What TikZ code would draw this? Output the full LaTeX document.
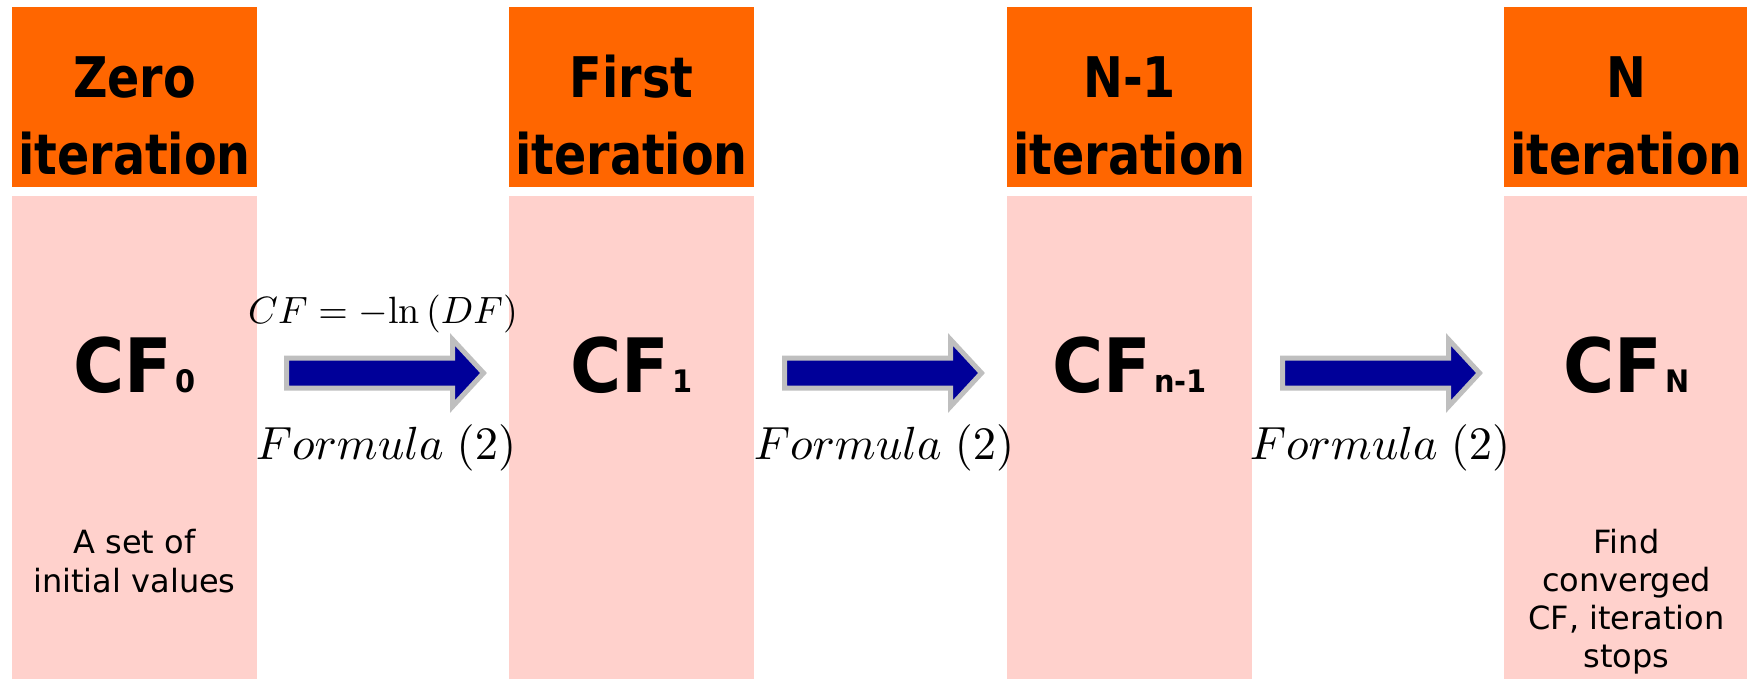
\documentclass[tikz,border=0pt]{standalone}
\usepackage{fontspec}
\usetikzlibrary{calc}
\newfontfamily\titlefont{DejaVu Sans}[FakeStretch=0.85]
\newfontfamily\cffont{DejaVu Sans}[FakeStretch=0.93]
\newfontfamily\notefont{DejaVu Sans}
\definecolor{hdorange}{HTML}{FF6600}
\definecolor{bdpink}{HTML}{FFD1CC}
\definecolor{arrblue}{HTML}{000099}
\definecolor{arrgray}{HTML}{BFBFBF}
\begin{document}
\begin{tikzpicture}[x=1pt,y=-1pt,
  headbox/.style={rectangle,fill=hdorange,draw=none,inner sep=0,anchor=north west,minimum width=245pt,minimum height=180pt},
  bodybox/.style={rectangle,fill=bdpink,draw=none,inner sep=0,anchor=north west,minimum width=245pt,minimum height=483pt},
  ttl/.style={font=\titlefont\bfseries\fontsize{56}{60}\selectfont,anchor=base,inner sep=0},
  cfl/.style={font=\cffont\bfseries\fontsize{75}{80}\selectfont,anchor=base,inner sep=0},
  note/.style={font=\notefont\fontsize{32}{38}\selectfont,anchor=base,inner sep=0},
  frm/.style={anchor=base,inner sep=0},
  blockarrow/.style={fill=arrblue,draw=arrgray,line width=5pt,line join=miter}
]
\useasboundingbox (0,0) rectangle (1747,679);
\fill[white] (0,0) rectangle (1747,679);

% columns
\node[headbox] (h1) at (12,7) {};
\node[headbox] (h2) at (509,7) {};
\node[headbox] (h3) at (1007,7) {};
\node[headbox] (h4) at (1504,7) {};
\node[bodybox] (b1) at (12,196) {};
\node[bodybox] (b2) at (509,196) {};
\node[bodybox] (b3) at (1007,196) {};
\node[bodybox] (b4) at (1504,196) {};

% titles
\node[ttl] (t1a) at (134.5,98) {Zero};
\node[ttl] (t1b) at (134.5,175) {iteration};
\node[ttl] (t2a) at (631.5,98) {First};
\node[ttl] (t2b) at (631.5,175) {iteration};
\node[ttl] (t3a) at (1129.5,98) {N-1};
\node[ttl] (t3b) at (1129.5,175) {iteration};
\node[ttl] (t4a) at (1626.5,98) {N};
\node[ttl] (t4b) at (1626.5,175) {iteration};

% CF values
\node[cfl] (cf0) at (134.5,392) {CF{\fontsize{31}{31}\selectfont\kern3pt 0}};
\node[cfl] (cf1) at (631.5,392) {CF{\fontsize{31}{31}\selectfont\kern3pt 1}};
\node[cfl] (cfn1) at (1129.5,392) {CF{\fontsize{31}{31}\selectfont\kern3pt n-1}};
\node[cfl] (cfN) at (1626.5,392) {CF{\fontsize{31}{31}\selectfont\kern3pt N}};

% notes
\node[note] (n1a) at (134.5,553) {A set of};
\node[note] (n1b) at (134.5,592) {initial values};
\node[note] (n4a) at (1626.5,553) {Find};
\node[note] (n4b) at (1626.5,591) {converged};
\node[note] (n4c) at (1626.5,629) {CF, iteration};
\node[note] (n4d) at (1626.5,667) {stops};

% formulas
\node[frm] (f0) at (383,323) {\scalebox{3.8}{$CF=-\mathrm{ln}\,(DF)$}};
\node[frm] (fa) at (386,459) {\scalebox{4.65}{$Formula\;(2)$}};
\node[frm] (fb) at (884,459) {\scalebox{4.65}{$Formula\;(2)$}};
\node[frm] (fc) at (1380,459) {\scalebox{4.65}{$Formula\;(2)$}};

% block arrows
\foreach \g/\n in {383/1,881/2,1379/3}{
  \coordinate (g\n) at (\g,373);
  \draw[blockarrow] ($(g\n)+(-96.5,-15)$) -- ($(g\n)+(69.5,-15)$) -- ($(g\n)+(69.5,-33.5)$)
    -- ($(g\n)+(100.5,0)$) -- ($(g\n)+(69.5,33.5)$) -- ($(g\n)+(69.5,15)$)
    -- ($(g\n)+(-96.5,15)$) -- cycle;
}
\end{tikzpicture}
\end{document}
